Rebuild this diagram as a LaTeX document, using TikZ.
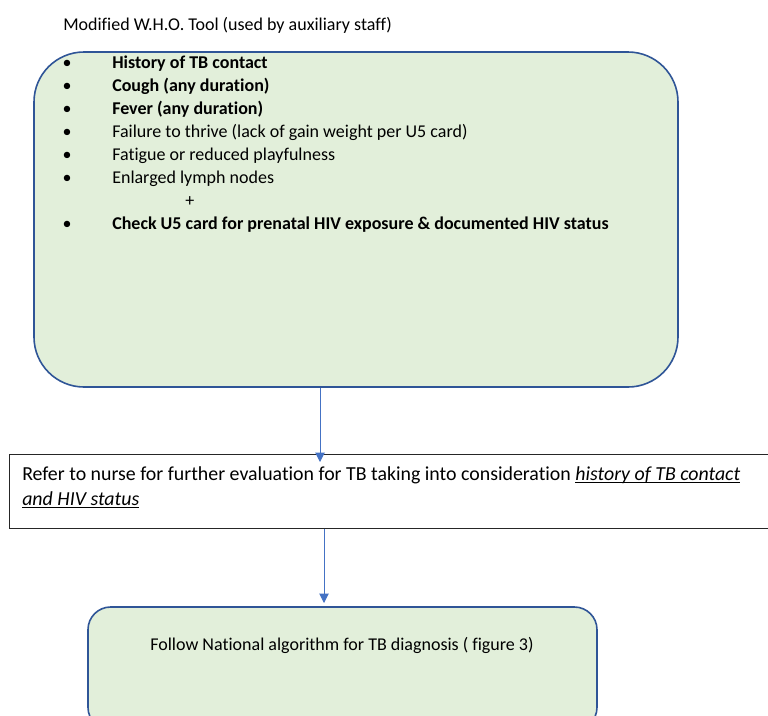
\documentclass[tikz,border=0pt]{standalone}
\usepackage{fontspec}
\setmainfont{Carlito}[Ligatures = NoCommon]
\usetikzlibrary{arrows.meta}
\usetikzlibrary{positioning}
\definecolor{boxfill}{HTML}{E2EFDA}
\definecolor{boxline}{HTML}{2F5597}
\definecolor{arrowblue}{HTML}{4472C4}
% italic text with a heavy underline
\newcommand{\uitext}[1]{\setbox0\hbox{\textit{#1}}\rlap{\rule[-2.4pt]{\wd0}{1.1pt}}\box0}
\tikzset {
  % arrow from one box down to the next
  flow/.style = {
    draw = arrowblue,
    line width = 0.75pt,
    -{Triangle[width = 7pt, length = 7pt]}
  }
}
\tikzset {
  green box/.style = {
    draw = boxline,
    fill = boxfill,
    line width = 1.2pt,
    inner sep = 0
  },
  % screening tool
  tool box/.style = {
    green box,
    rounded corners = 37.5pt,
    minimum width = 483pt,
    minimum height = 251.25pt
  },
  % referral to nurse
  refer box/.style = {
    draw = black!85,
    fill = white,
    line width = 0.75pt,
    minimum width = 585.75pt,
    minimum height = 55.5pt,
    inner sep = 0
  },
  % national algorithm
  national box/.style = {
    green box,
    rounded corners = 17pt,
    minimum width = 381.75pt,
    minimum height = 92.25pt
  },
  dot/.style = {
    anchor = base,
    inner sep = 0
  },
  item/.style = {
    anchor = base west,
    inner sep = 0
  },
  big/.style = {
    font = \fontsize{14.9}{18}\selectfont
  }
}

\begin{document}
\begin{tikzpicture}[x = 0.75pt, y = -0.75pt, font = \fontsize{13.5}{16}\selectfont]
    \clip (0,0) rectangle (768,715);

    \node[item] (title) at (63,30.5) {Modified W.H.O. Tool (used by auxiliary staff)};

    \node[tool box] (tool) at (356,219.5) {};
    \foreach \n/\y/\txt in {
        1/68/{\textbf{History of TB contact}},
        2/91/{\textbf{Cough (any duration)}},
        3/114/{\textbf{Fever (any duration)}},
        4/137/{Failure to thrive (lack of gain weight per U5 card)},
        5/160/{Fatigue or reduced playfulness},
        6/183/{Enlarged lymph nodes},
        7/229/{\textbf{Check U5 card for prenatal HIV exposure \& documented HIV status}}} {
      \node[dot] (dot\n) at (67,\y) {\textbullet};
      \node[item] (item\n) at (112,\y) {\txt};
    }
    \node[item] (plus) at (185,206) {+};

    \node[refer box] (refer) at (399.5,491) {};
    \node[item, big] (refer-one) at (22,480)
      {Refer to nurse for further evaluation for TB taking into consideration \uitext{history of TB contact}};
    \node[item, big] (refer-two) at (22,505) {\uitext{and HIV status}};

    \node[national box] (national) at (342.5,668.5) {};
    \node[dot] (national-text) at (342,650) {Follow National algorithm for TB diagnosis ( figure 3)};

    \coordinate (tip-refer) at (320,462);
    \coordinate (tip-national) at (324,603);

    \draw[flow] (tool.south -| tip-refer) -- (tip-refer);
    \draw[flow] (refer.south -| tip-national) -- (tip-national);
  \end{tikzpicture}
\end{document}
